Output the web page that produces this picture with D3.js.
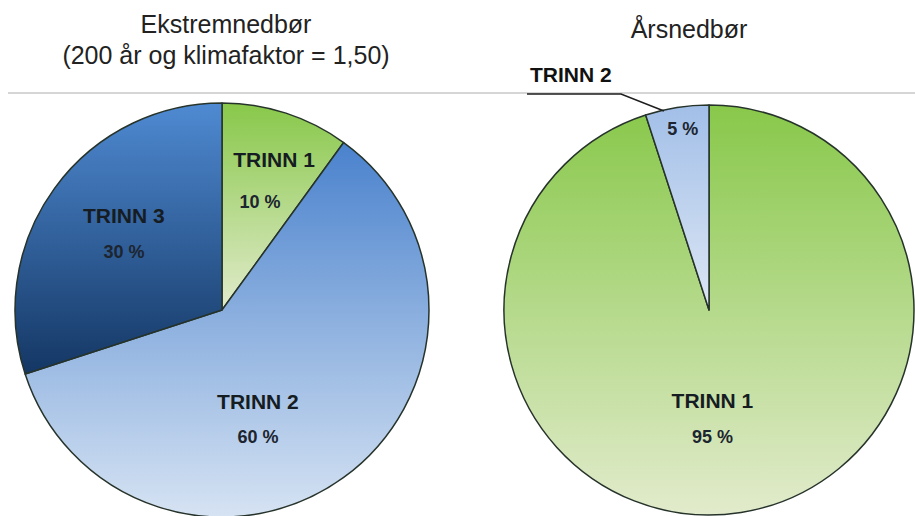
<!DOCTYPE html>
<html>
<head>
<meta charset="utf-8">
<script src="https://cdn.jsdelivr.net/npm/d3@7"></script>
<style>
  html, body { margin: 0; padding: 0; background: #fff; }
  svg { display: block; font-family: 'Liberation Sans', Arial, sans-serif; }
</style>
</head>
<body>
<svg id="canvas" width="915" height="516"></svg>
<script>
// data
const leftTitle = ['Ekstremnedbør', '(200 år og klimafaktor = 1,50)'];
const leftNames = ['TRINN 1', 'TRINN 2', 'TRINN 3'];
const leftValues = [10, 60, 30];

const rightTitle = ['Årsnedbør'];
const rightNames = ['TRINN 1', 'TRINN 2'];
const rightValues = [95, 5];

// gradient stops per step: [top, bottom]
const stepColors = {
    'TRINN 1': ['#88c84a', '#e2ebcc'],
    'TRINN 2': ['#4a82cd', '#d6e3f3'],
    'TRINN 3': ['#4f8ad2', '#143764']
};
const smallSliceColors = ['#a2bfe8', '#dde7f4'];

const svg = d3.select('#canvas');
const defs = svg.append('defs');

const addGradient = (id, [top, bottom]) => {
    const g = defs.append('linearGradient')
        .attr('id', id)
        .attr('x1', 0).attr('y1', 0)
        .attr('x2', 0).attr('y2', 1);
    g.append('stop').attr('offset', '0%').attr('stop-color', top);
    g.append('stop').attr('offset', '100%').attr('stop-color', bottom);
};

// separator line under the titles
svg.append('line')
    .attr('x1', 8).attr('x2', 915)
    .attr('y1', 93).attr('y2', 93)
    .attr('stroke', '#c9c9c9')
    .attr('stroke-width', 1.5);

const drawPie = (opts) => {
    const { id, names, values, cx, cy, radius, title, titleX, titleY, labels } = opts;
    const pie = d3.pie().sort(null).value(d => d.value);
    const arc = d3.arc().innerRadius(0).outerRadius(radius);
    const slices = pie(names.map((name, i) => ({ name, value: values[i] })));

    const g = svg.append('g').attr('transform', `translate(${cx}, ${cy})`);

    g.selectAll('path')
        .data(slices)
        .enter()
        .append('path')
        .attr('d', arc)
        .attr('fill', (d, i) => {
            const gid = `${id}-grad-${i}`;
            addGradient(gid, d.data.value < 8 ? smallSliceColors : stepColors[d.data.name]);
            return `url(#${gid})`;
        })
        .attr('stroke', '#26332a')
        .attr('stroke-width', 1.5)
        .attr('stroke-linejoin', 'round');

    slices.forEach((d, i) => {
        const lab = labels[i];
        const x = Math.sin(lab.angle * Math.PI / 180) * lab.r;
        const y = -Math.cos(lab.angle * Math.PI / 180) * lab.r;
        if (lab.showName) {
            g.append('text')
                .attr('x', x).attr('y', y)
                .attr('text-anchor', 'middle')
                .attr('font-weight', 'bold')
                .attr('font-size', 21)
                .attr('fill', '#151c22')
                .text(d.data.name);
        }
        g.append('text')
            .attr('x', x + (lab.pdx || 0)).attr('y', y + (lab.showName ? lab.gap : 0))
            .attr('text-anchor', 'middle')
            .attr('font-weight', 'bold')
            .attr('font-size', 18)
            .attr('fill', '#1c2530')
            .text(`${d.data.value} %`);
    });

    svg.append('text')
        .attr('text-anchor', 'middle')
        .attr('font-size', 25)
        .attr('fill', '#222')
        .selectAll('tspan')
        .data(title)
        .enter()
        .append('tspan')
        .attr('x', titleX)
        .attr('y', (d, i) => titleY + i * 31)
        .text(d => d);

    return { g, slices, arc };
};

drawPie({
    id: 'left', names: leftNames, values: leftValues,
    cx: 222, cy: 310, radius: 207,
    title: leftTitle, titleX: 226, titleY: 33,
    labels: [
        { angle: 20, r: 152, showName: true, gap: 41, pdx: -14 },
        { angle: 160, r: 105, showName: true, gap: 34 },
        { angle: 311.5, r: 131, showName: true, gap: 35 }
    ]
});

drawPie({
    id: 'right', names: rightNames, values: rightValues,
    cx: 709, cy: 310, radius: 205,
    title: rightTitle, titleX: 689, titleY: 38,
    labels: [
        { angle: 178, r: 98, showName: true, gap: 35 },
        { angle: 351.5, r: 177, showName: false, gap: 0 }
    ]
});

// outside label + leader for the small slice
svg.append('polyline')
    .attr('points', '527,94 621,94 664,111')
    .attr('fill', 'none')
    .attr('stroke', '#1e1e1e')
    .attr('stroke-width', 1.5);

svg.append('text')
    .attr('x', 530).attr('y', 82)
    .attr('font-weight', 'bold')
    .attr('font-size', 21)
    .attr('fill', '#111')
    .text(rightNames[1]);
</script>
</body>
</html>
